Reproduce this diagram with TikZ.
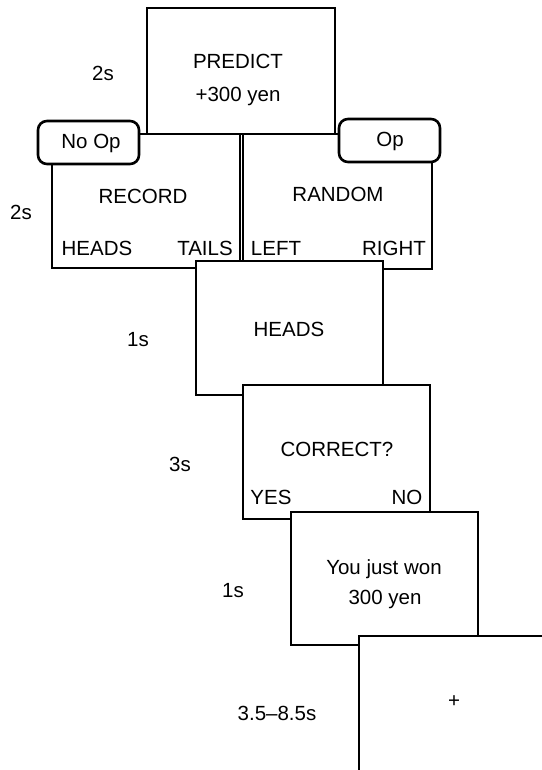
\documentclass[tikz,border=0pt]{standalone}
\usepackage{fontspec}
\setmainfont{Liberation Sans}
\begin{document}
\begin{tikzpicture}[x=1pt,y=-1pt,
  scr/.style={draw, line width=2.9pt, fill=white, rectangle, inner sep=0pt, outer sep=0pt, anchor=north west},
  tag/.style={draw, line width=2.6pt, fill=white, rounded corners=9pt, inner sep=0pt, outer sep=0pt, anchor=north west},
  lab/.style={font=\fontsize{20.5}{24}\selectfont, anchor=base, inner sep=0pt}]
\useasboundingbox (0,0) rectangle (541,770);
\fill[white] (0,0) rectangle (541,770);
% screens
\node[scr, minimum width=188pt, minimum height=126pt] (predict) at (147,8) {};
\node[scr, minimum width=188pt, minimum height=134pt] (record) at (52,134) {};
\node[scr, minimum width=189pt, minimum height=135pt] (random) at (243,134) {};
\node[tag, minimum width=101pt, minimum height=43pt] (noop) at (38,121) {};
\node[tag, minimum width=101pt, minimum height=43pt] (op) at (339,119) {};
\node[scr, minimum width=187pt, minimum height=134pt] (heads) at (196,261) {};
\node[scr, minimum width=187pt, minimum height=134pt] (correct) at (243,385) {};
\node[scr, minimum width=187pt, minimum height=133pt] (won) at (291,512) {};
\node[scr, minimum width=230pt, minimum height=190pt] (fix) at (359,636) {};
% texts in screens
\node[lab] (tpredict) at (238,69) {PREDICT};
\node[lab] (tyen) at (238,102) {+300 yen};
\node[lab] (tnoop) at (91,149) {No Op};
\node[lab] (top) at (390,147) {Op};
\node[lab] (trecord) at (143,203) {RECORD};
\node[lab] (trheads) at (97,255) {HEADS};
\node[lab] (trtails) at (205,255) {TAILS};
\node[lab] (trandom) at (338,201) {RANDOM};
\node[lab] (tleft) at (276,255) {LEFT};
\node[lab] (tright) at (394,255) {RIGHT};
\node[lab] (theads) at (289,336) {HEADS};
\node[lab] (tcorrect) at (337,456) {CORRECT?};
\node[lab] (tyes) at (271,504) {YES};
\node[lab] (tno) at (407,504) {NO};
\node[lab] (twon) at (384,574) {You just won};
\node[lab] (twonyen) at (385,604) {300 yen};
\node[lab] (tplus) at (454,707) {+};
% durations
\node[lab] (d1) at (103,81) {2s};
\node[lab] (d2) at (21,219) {2s};
\node[lab] (d3) at (138,346) {1s};
\node[lab] (d4) at (180,471) {3s};
\node[lab] (d5) at (233,597) {1s};
\node[lab] (d6) at (277,720) {3.5–8.5s};
\end{tikzpicture}
\end{document}
